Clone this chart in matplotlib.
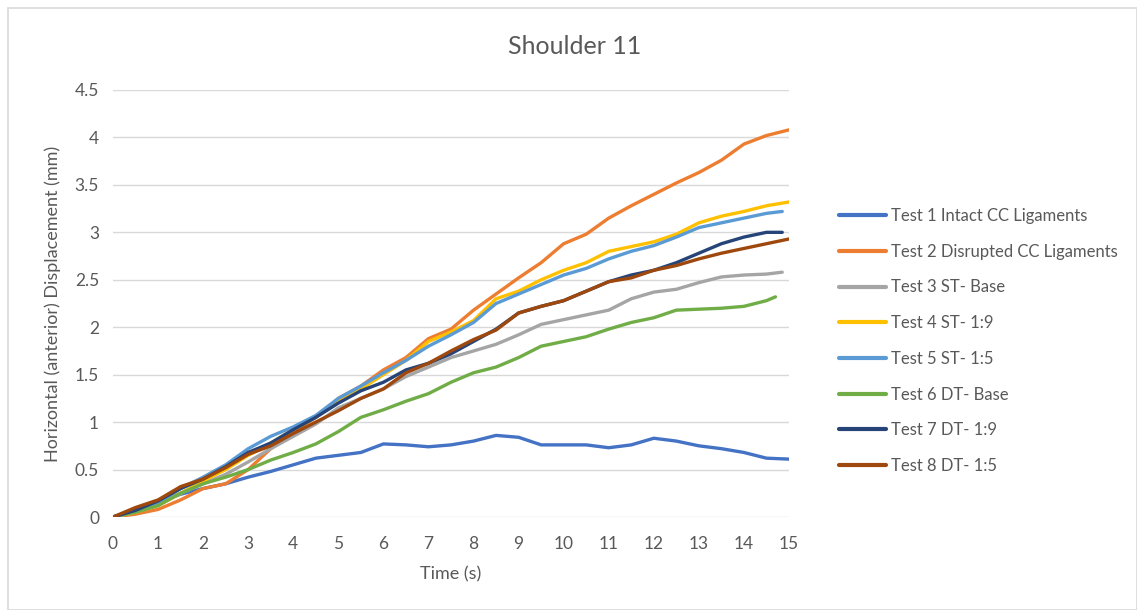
import matplotlib
matplotlib.use("Agg")
import matplotlib.pyplot as plt
from matplotlib.patches import Rectangle

plt.rcParams['font.family'] = ['Lato', 'DejaVu Sans']

time_s = [0, 0.5, 1, 1.5, 2, 2.5, 3, 3.5, 4, 4.5, 5, 5.5, 6, 6.5, 7, 7.5,
          8, 8.5, 9, 9.5, 10, 10.5, 11, 11.5, 12, 12.5, 13, 13.5, 14, 14.5, 15]

test1 = [0, 0.07, 0.15, 0.24, 0.30, 0.35, 0.42, 0.48, 0.55, 0.62, 0.65, 0.68, 0.77, 0.76, 0.74, 0.76,
         0.80, 0.86, 0.84, 0.76, 0.76, 0.76, 0.73, 0.76, 0.83, 0.80, 0.75, 0.72, 0.68, 0.62, 0.61]
test2 = [0, 0.03, 0.08, 0.18, 0.30, 0.35, 0.50, 0.72, 0.90, 1.05, 1.25, 1.38, 1.55, 1.68, 1.88, 1.98,
         2.18, 2.35, 2.52, 2.68, 2.88, 2.98, 3.15, 3.28, 3.40, 3.52, 3.63, 3.76, 3.93, 4.02, 4.08]
test3 = [0, 0.05, 0.15, 0.25, 0.35, 0.45, 0.58, 0.72, 0.85, 0.98, 1.15, 1.25, 1.35, 1.48, 1.58, 1.68,
         1.75, 1.82, 1.92, 2.03, 2.08, 2.13, 2.18, 2.30, 2.37, 2.40, 2.47, 2.53, 2.55, 2.56, 2.58]
test4 = [0, 0.05, 0.12, 0.25, 0.38, 0.50, 0.65, 0.78, 0.92, 1.05, 1.22, 1.35, 1.50, 1.65, 1.85, 1.95,
         2.07, 2.30, 2.38, 2.50, 2.60, 2.68, 2.80, 2.85, 2.90, 2.98, 3.10, 3.17, 3.22, 3.28, 3.32]
test5 = [0, 0.08, 0.15, 0.30, 0.42, 0.55, 0.72, 0.85, 0.95, 1.07, 1.25, 1.38, 1.52, 1.65, 1.80, 1.92,
         2.05, 2.25, 2.35, 2.45, 2.55, 2.62, 2.72, 2.80, 2.86, 2.95, 3.05, 3.10, 3.15, 3.20, 3.22]
test6 = [0, 0.05, 0.12, 0.25, 0.35, 0.42, 0.50, 0.60, 0.68, 0.77, 0.90, 1.05, 1.13, 1.22, 1.30, 1.42,
         1.52, 1.58, 1.68, 1.80, 1.85, 1.90, 1.98, 2.05, 2.10, 2.18, 2.19, 2.20, 2.22, 2.28, 2.32]
test7 = [0, 0.07, 0.17, 0.30, 0.40, 0.53, 0.68, 0.78, 0.92, 1.05, 1.20, 1.33, 1.42, 1.55, 1.62, 1.72,
         1.85, 1.98, 2.15, 2.22, 2.28, 2.38, 2.48, 2.55, 2.60, 2.68, 2.78, 2.88, 2.95, 3.00, 3.00]
test8 = [0, 0.10, 0.18, 0.32, 0.40, 0.52, 0.66, 0.75, 0.88, 1.00, 1.12, 1.25, 1.35, 1.52, 1.62, 1.75,
         1.87, 1.97, 2.15, 2.22, 2.28, 2.38, 2.48, 2.52, 2.60, 2.65, 2.72, 2.78, 2.83, 2.88, 2.93]

# last time point of each series (some stop slightly before 15 s)
end_times = [15, 15, 14.85, 15, 14.85, 14.7, 14.85, 15]

labels = ["Test 1 Intact CC Ligaments", "Test 2 Disrupted CC Ligaments", "Test 3 ST- Base",
          "Test 4 ST- 1:9", "Test 5 ST- 1:5", "Test 6 DT- Base", "Test 7 DT- 1:9", "Test 8 DT- 1:5"]
colors = ["#4472C4", "#ED7D31", "#A5A5A5", "#FFC000", "#5B9BD5", "#70AD47", "#264478", "#9E480E"]
x_ticks = list(range(0, 16))
y_ticks = [0, 0.5, 1, 1.5, 2, 2.5, 3, 3.5, 4, 4.5]
y_tick_labels = ["0", "0.5", "1", "1.5", "2", "2.5", "3", "3.5", "4", "4.5"]

fig = plt.figure(figsize=(11.37, 6.10), dpi=100)
fig.patches.append(Rectangle((8 / 1137, 0), 1 - 8 / 1137, 1 - 8 / 610, transform=fig.transFigure,
                             fill=False, edgecolor="#D9D9D9", linewidth=1.2))
ax = fig.add_axes([113 / 1137, 93 / 610, 676 / 1137, 427 / 610])

series = [test1, test2, test3, test4, test5, test6, test7, test8]
for vals, lab, col, te in zip(series, labels, colors, end_times):
    t = list(time_s)
    t[-1] = te
    ax.plot(t, vals, color=col, linewidth=2.4, label=lab, solid_capstyle="round")

ax.set_xlim(0, 15)
ax.set_ylim(0, 4.5)
ax.set_xticks(x_ticks)
ax.set_yticks(y_ticks)
ax.set_yticklabels(y_tick_labels)
ax.grid(axis="y", color="#D9D9D9", linewidth=1)
ax.set_axisbelow(True)
for s in ax.spines.values():
    s.set_visible(False)
ax.tick_params(length=0, labelsize=12.5, colors="#595959", pad=10)
ax.tick_params(axis="x", pad=14)

ax.set_xlabel("Time (s)", fontsize=13, color="#595959", labelpad=10)
ax.set_ylabel("Horizontal (anterior) Displacement (mm)", fontsize=13, color="#595959", labelpad=10)
fig.text(575 / 1137, 1 - 46 / 610, "Shoulder 11", fontsize=18, color="#595959", ha="center", va="center")

leg = ax.legend(loc="center left", bbox_to_anchor=(824 / 1137, 1 - 341 / 610),
                bbox_transform=fig.transFigure, frameon=False, fontsize=12,
                labelspacing=1.18, handlelength=2.8, handletextpad=0.3)
for txt in leg.get_texts():
    txt.set_color("#595959")
for h in leg.get_lines():
    h.set_linewidth(3)

fig.savefig("out.png", dpi=100)
